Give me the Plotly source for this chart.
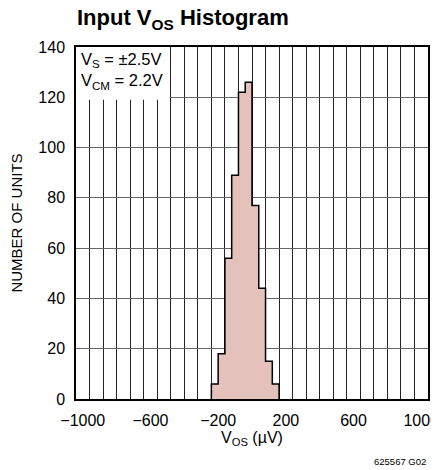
import plotly.graph_objects as go

# Data
bin_left_edges = [-240, -200, -160, -120, -80, -40, 0, 40, 80, 120]
bin_width = 40
counts = [6, 18, 56, 89, 122, 126, 77, 44, 15, 6]
x_tick_vals = [-1000, -600, -200, 200, 600, 1000]
x_tick_text = ["\u22121000", "\u2212600", "\u2212200", "200", "600", "1000"]
y_tick_vals = [0, 20, 40, 60, 80, 100, 120, 140]

# Build step outline of the histogram from the data
xs, ys = [bin_left_edges[0]], [0]
for left, c in zip(bin_left_edges, counts):
    xs += [left, left + bin_width]
    ys += [c, c]
xs.append(bin_left_edges[-1] + bin_width)
ys.append(0)

FONT = "Liberation Sans, Arial, sans-serif"
# page has an 8px body margin -> figure is 8px smaller and margins shifted
W, H = 431, 462

fig = go.Figure()
fig.add_trace(go.Scatter(
    x=xs, y=ys, mode="lines", fill="toself",
    fillcolor="#E4C2BB", line=dict(color="black", width=1.5),
    hoverinfo="skip", showlegend=False,
))

fig.update_layout(
    width=W, height=H,
    margin=dict(l=68, r=11, t=39, b=71, autoexpand=False),
    paper_bgcolor="white", plot_bgcolor="white",
    font=dict(family=FONT, color="black", size=16),
    title=dict(
        text="<b>Input V<sub>OS</sub> Histogram</b>",
        font=dict(family=FONT, size=22, color="black"),
        x=69 / W, xanchor="left", xref="container",
        y=1 - 2 / H, yanchor="top", yref="container",
    ),
    xaxis=dict(
        range=[-1040, 1040], tickmode="array", tickvals=x_tick_vals, ticktext=x_tick_text,
        tickangle=0,
        showgrid=False, zeroline=False, showline=True, mirror=True, automargin=False,
        linecolor="black", linewidth=1.5,
        ticks="outside", ticklen=6, tickcolor="rgba(0,0,0,0)",
        ticklabeloverflow="allow",
        minor=dict(tick0=0, dtick=80, showgrid=True, gridcolor="#222222", gridwidth=1, ticks=""),
        title=dict(text="V<sub>OS</sub> (\u00b5V)", font=dict(family=FONT, size=16), standoff=2),
        tickfont=dict(family=FONT, size=16),
    ),
    yaxis=dict(
        range=[0, 140], tickvals=y_tick_vals, showgrid=True, automargin=False,
        gridcolor="#666666", gridwidth=1, zeroline=False, showline=True, mirror=True,
        linecolor="black", linewidth=1.5,
        ticks="outside", ticklen=6, tickcolor="rgba(0,0,0,0)",
        ticklabeloverflow="allow",
        title=dict(text="NUMBER OF UNITS", font=dict(family=FONT, size=15), standoff=14),
        tickfont=dict(family=FONT, size=16),
    ),
    shapes=[dict(
        type="rect", xref="x", yref="y", x0=-1040, x1=-486, y0=119, y1=140,
        fillcolor="white", line=dict(width=0), layer="between",
    )],
    annotations=[
        dict(text="V<sub>S</sub> = \u00b12.5V<br>V<sub>CM</sub> = 2.2V",
             xref="x", yref="y", x=-1025, y=139.7, xanchor="left", yanchor="top",
             align="left", showarrow=False, font=dict(family=FONT, size=16.5, color="black")),
        dict(text="625567 G02", xref="paper", yref="paper", x=1, y=0,
             yshift=-55, xanchor="right", yanchor="top", showarrow=False,
             font=dict(family=FONT, size=9.5, color="black")),
    ],
)

fig.write_html("out.html")
